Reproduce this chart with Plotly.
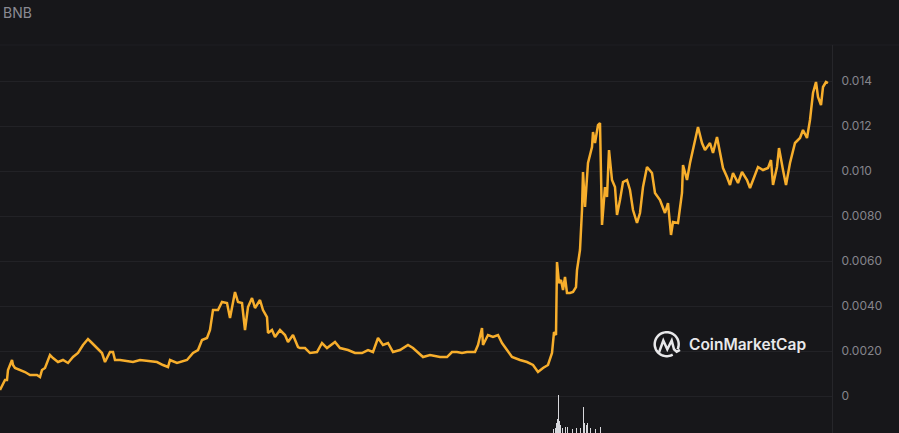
import math
import plotly.graph_objects as go

# ---------------- data ----------------
days = [0,5,7,8,12,13,15,20,25,30,37,40,42,45,50,53,58,63,68,73,78,83,88,92,97,102,105,110,113,115,120,133,140,157,163,168,170,177,187,193,198,202,207,210,213,215,218,222,227,230,233,235,238,242,245,248,252,255,260,263,267,268,272,275,280,285,288,293,298,300,305,310,317,322,327,335,340,348,355,362,368,373,378,383,388,393,400,408,413,420,423,430,440,447,452,457,462,467,475,478,482,483,488,493,498,502,507,512,520,527,533,538,543,548,552,554,556,557,559,561,563,565,567,570,573,576,577,580,582,583,585,588,592,593,595,598,600,602,605,607,609,612,615,617,620,623,627,630,633,637,640,643,647,652,655,660,665,668,671,673,678,682,683,687,690,693,698,702,705,710,713,717,720,723,727,730,733,738,742,747,750,753,758,763,768,771,773,777,779,783,786,790,795,800,803,807,810,813,816,818,821,823,826,828]

price = [0.000267,0.000711,0.000711,0.001156,0.0016,0.001378,0.001244,0.001156,0.001067,0.000933,0.000933,0.000844,0.001156,0.001244,0.001822,0.001689,0.001511,0.0016,0.001467,0.001733,0.001911,0.002267,0.002533,0.002356,0.002133,0.001911,0.001511,0.001956,0.001956,0.0016,0.0016,0.001511,0.0016,0.001511,0.001378,0.001289,0.0016,0.001467,0.0016,0.001911,0.002044,0.002489,0.002578,0.002933,0.003822,0.003822,0.003822,0.004178,0.004133,0.003467,0.004267,0.004622,0.004178,0.004133,0.002933,0.003956,0.004356,0.003911,0.004267,0.003822,0.003511,0.0028,0.002933,0.002622,0.002933,0.002711,0.0024,0.002711,0.002178,0.002133,0.002133,0.001911,0.001956,0.002356,0.002133,0.0024,0.002133,0.002044,0.001911,0.001911,0.002044,0.001956,0.002578,0.002267,0.002356,0.001956,0.002044,0.002267,0.002133,0.001822,0.001733,0.001822,0.001733,0.001733,0.001956,0.001956,0.001911,0.001956,0.001956,0.002267,0.003022,0.002267,0.002711,0.002622,0.002711,0.002356,0.002044,0.001733,0.0016,0.001511,0.001378,0.001067,0.001244,0.001378,0.001911,0.002844,0.002711,0.005956,0.005022,0.005156,0.004711,0.005289,0.004578,0.004578,0.004622,0.004844,0.0056,0.006489,0.008267,0.009956,0.0084,0.010356,0.011067,0.011733,0.011244,0.012044,0.012133,0.0076,0.009289,0.008844,0.010933,0.0096,0.009289,0.008044,0.008711,0.009511,0.0096,0.009156,0.008267,0.007689,0.008133,0.009289,0.010178,0.009911,0.009022,0.008711,0.008133,0.008578,0.007156,0.007733,0.007689,0.009022,0.010267,0.0096,0.010356,0.010933,0.011956,0.011244,0.010933,0.011244,0.0108,0.011511,0.0108,0.010133,0.009733,0.009378,0.009911,0.009467,0.009956,0.0096,0.009244,0.0096,0.010178,0.010044,0.010133,0.010489,0.009378,0.010178,0.011022,0.010044,0.009378,0.010356,0.011244,0.011467,0.011822,0.011467,0.012267,0.013467,0.013956,0.013289,0.012933,0.013733,0.013956,0.013911]

vol_days = [553, 555, 556, 557, 558, 559, 560, 562, 565, 567, 572, 576, 580, 583, 584, 586, 587, 590, 595, 600]
volume = [1.0, 1.2, 2.5, 3.5, 9.8, 3.0, 2.0, 1.2, 1.5, 1.6, 1.0, 1.2, 1.3, 6.7, 2.5, 2.0, 2.6, 1.2, 1.0, 1.6]

tick_vals = [0, 0.002, 0.004, 0.006, 0.008, 0.010, 0.012, 0.014]
tick_text = ["0", "0.0020", "0.0040", "0.0060", "0.0080", "0.010", "0.012", "0.014"]

title_text = "BNB"
brand_text = "CoinMarketCap"

# ---------------- layout constants ----------------
W, H = 899, 433
ML, MR, MT, MB = 0, 67, 45, 0
PW, PH = W - ML - MR, H - MT - MB
BG = "#17171A"
LINE = "#F7AE2C"


def paper(px, py):
    return (px - ML) / PW, (H - MB - py) / PH


fig = go.Figure()

fig.add_trace(go.Bar(
    x=vol_days, y=volume, yaxis="y2", width=1,
    marker=dict(color="#D8D8DC", line=dict(width=0)),
    hoverinfo="skip", showlegend=False,
))

fig.add_trace(go.Scatter(
    x=days, y=price, mode="lines",
    line=dict(color=LINE, width=2.5, shape="linear"),
    hoverinfo="skip", showlegend=False,
))

# --- CoinMarketCap logo (decoration) ---
cx, cy, r = 666.7, 344.2, 12.0
pts = []
a0, a1 = -25, 300
n = 60
for i in range(n + 1):
    a = math.radians(a0 + (a1 - a0) * i / n)
    pts.append(paper(cx + r * math.cos(a), cy - r * math.sin(a)))
circle_path = "M " + " L ".join(f"{x:.5f},{y:.5f}" for x, y in pts)
wave_px = [(659, 352.5), (663.3, 340.5), (667.3, 349.3), (671.7, 340.5), (674, 349.3), (676.7, 351.7), (680, 350)]
wave = [paper(x, y) for x, y in wave_px]
wave_path = "M " + " L ".join(f"{x:.5f},{y:.5f}" for x, y in wave)

shapes = [
    dict(type="path", xref="paper", yref="paper", path=circle_path,
         line=dict(color="#E8E8EA", width=2.5), layer="above"),
    dict(type="path", xref="paper", yref="paper", path=wave_path,
         line=dict(color="#E8E8EA", width=2.5), layer="above"),
    dict(type="line", xref="paper", yref="paper", x0=0, x1=W / PW, y0=1, y1=1,
         line=dict(color="#1F1F23", width=1), layer="below"),
]

bx, by = paper(687, 344)
tx, ty = paper(1, 12)

fig.update_layout(
    width=W, height=H,
    margin=dict(l=ML, r=MR, t=MT, b=MB, pad=0),
    paper_bgcolor=BG, plot_bgcolor=BG,
    showlegend=False,
    bargap=0,
    hovermode=False,
    font=dict(family="Inter, Roboto, sans-serif", color="#85858C", size=12),
    xaxis=dict(range=[0, PW], visible=False, showgrid=False, zeroline=False, fixedrange=True),
    yaxis=dict(
        side="right", range=[-0.001644, 0.0156],
        tickmode="array", tickvals=tick_vals, ticktext=tick_text,
        showgrid=True, gridcolor="#222226", gridwidth=1,
        zeroline=False, showline=True, linecolor="#26262A", linewidth=1,
        ticks="", ticklabelstandoff=6,
        tickfont=dict(family="Inter, Roboto, sans-serif", size=12, color="#85858C"),
        fixedrange=True,
    ),
    yaxis2=dict(overlaying="y", range=[0, 100], visible=False, showgrid=False, fixedrange=True),
    shapes=shapes,
    annotations=[
        dict(text=title_text, xref="paper", yref="paper", x=tx, y=ty,
             xanchor="left", yanchor="middle", showarrow=False,
             font=dict(family="Inter, Roboto, sans-serif", size=14, color="#8B8B94")),
        dict(text=brand_text, xref="paper", yref="paper", x=bx, y=by,
             xanchor="left", yanchor="middle", showarrow=False,
             font=dict(family="Inter, Roboto, sans-serif", size=15.5, color="#E8E8EA", weight=600)),
    ],
)

fig.write_html(
    "out.html",
    config={"displayModeBar": False, "staticPlot": True},
    post_script="document.body.style.margin='0';document.body.style.background='#17171A';",
)
